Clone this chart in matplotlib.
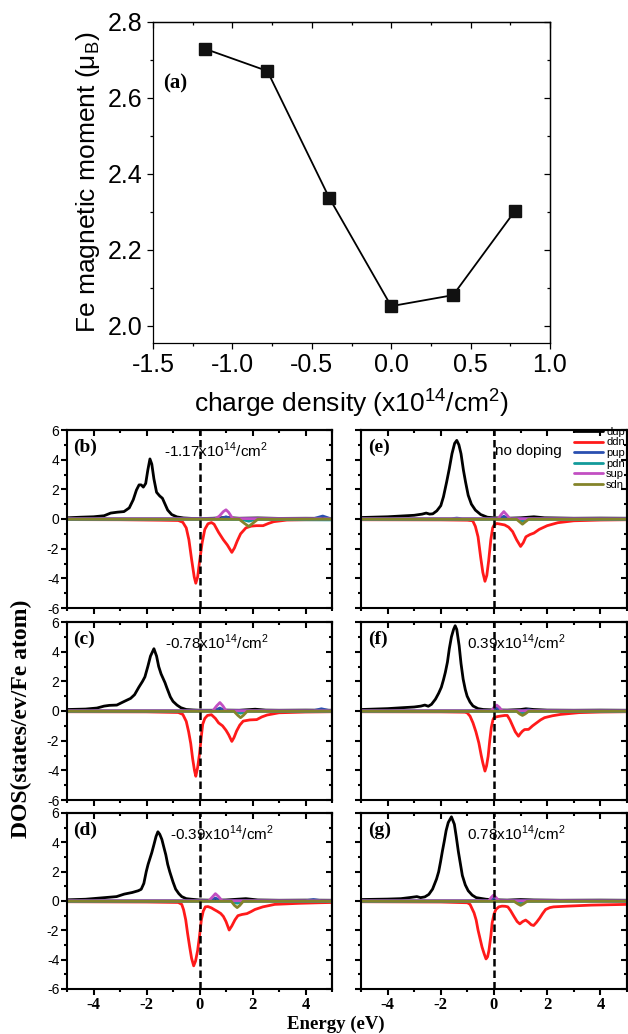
import numpy as np
import matplotlib
matplotlib.use('Agg')
from matplotlib import pyplot as plt
from matplotlib.ticker import MultipleLocator

plt.rcParams['font.family'] = ['Liberation Sans', 'DejaVu Sans']
plt.rcParams['axes.unicode_minus'] = False

# panel (a): Fe magnetic moment vs charge density
charge = [-1.17, -0.78, -0.39, 0.0, 0.39, 0.78]
moment = [2.729, 2.671, 2.337, 2.052, 2.081, 2.303]

# DOS panels, (energy, dos) pairs
b_dup = [(-5,0.08),(-4.5,0.12),(-4,0.15),(-3.6,0.22),(-3.35,0.4),(-3.1,0.46),(-2.85,0.5),(-2.65,0.75),(-2.5,1.3),(-2.38,1.95),(-2.28,2.3),(-2.2,2.3),(-2.12,2.15),(-2.03,2.4),(-1.95,3.3),(-1.87,4.05),(-1.8,3.7),(-1.72,2.7),(-1.62,1.8),(-1.5,1.55),(-1.4,1.4),(-1.3,1.0),(-1.2,0.6),(-1.05,0.3),(-0.85,0.14),(-0.6,0.07),(-0.3,0.04),(0,0.03),(0.5,0.05),(1.0,0.1),(1.5,0.05),(2.2,0.07),(3,0.04),(4,0.05),(5,0.04)]
b_ddn = [(-5,-0.04),(-3,-0.05),(-1.5,-0.08),(-0.8,-0.1),(-0.63,-0.22),(-0.5,-0.6),(-0.4,-1.4),(-0.3,-2.7),(-0.2,-3.9),(-0.14,-4.33),(-0.07,-3.9),(0,-2.9),(0.1,-1.6),(0.2,-0.7),(0.32,-0.32),(0.45,-0.24),(0.55,-0.35),(0.72,-0.9),(0.9,-1.4),(1.05,-1.75),(1.22,-2.25),(1.32,-1.95),(1.42,-1.5),(1.55,-1.0),(1.75,-0.6),(1.95,-0.48),(2.15,-0.45),(2.4,-0.45),(2.6,-0.3),(2.8,-0.18),(3.3,-0.07),(4,-0.05),(5,-0.04)]
b_pup = [(-5,0.02),(0.8,0.02),(1.0,0.15),(1.2,0.02),(4.3,0.02),(4.65,0.2),(4.9,0.05),(5,0.03)]
b_pdn = [(-5,-0.03),(1.6,-0.03),(1.86,-0.15),(2.1,-0.03),(5,-0.06)]
b_sup = [(-5,0.01),(0.6,0.01),(0.75,0.2),(0.9,0.5),(1.0,0.62),(1.1,0.45),(1.25,0.03),(5,0.01)]
b_sdn = [(-5,-0.01),(1.5,-0.02),(1.7,-0.3),(1.86,-0.5),(2.0,-0.3),(2.2,-0.02),(5,-0.01)]

c_dup = [(-5,0.1),(-4.3,0.13),(-3.87,0.2),(-3.6,0.33),(-3.4,0.38),(-3.12,0.4),(-2.95,0.55),(-2.8,0.68),(-2.6,0.85),(-2.45,1.1),(-2.29,1.6),(-2.15,2.0),(-2.06,2.3),(-1.95,3.0),(-1.85,3.7),(-1.72,4.2),(-1.62,3.7),(-1.54,3.0),(-1.45,2.5),(-1.39,2.26),(-1.3,1.9),(-1.24,1.6),(-1.1,0.95),(-1.0,0.65),(-0.85,0.4),(-0.7,0.22),(-0.5,0.1),(-0.25,0.07),(0,0.05),(0.5,0.05),(1.0,0.06),(1.5,0.05),(2.1,0.12),(2.5,0.06),(3,0.05),(4,0.06),(5,0.05)]
c_ddn = [(-5,-0.05),(-2,-0.06),(-0.8,-0.1),(-0.63,-0.23),(-0.5,-0.7),(-0.41,-1.4),(-0.33,-2.2),(-0.26,-3.2),(-0.19,-4.0),(-0.14,-4.4),(-0.07,-3.8),(0,-2.9),(0.07,-1.7),(0.12,-0.9),(0.2,-0.5),(0.3,-0.3),(0.45,-0.25),(0.6,-0.5),(0.72,-0.8),(0.87,-1.0),(1.0,-1.3),(1.1,-1.6),(1.22,-2.05),(1.3,-1.8),(1.4,-1.35),(1.52,-0.95),(1.65,-0.68),(1.9,-0.6),(2.16,-0.58),(2.35,-0.4),(2.55,-0.27),(3.0,-0.12),(4,-0.07),(5,-0.05)]
c_pup = [(-5,0.02),(0.55,0.02),(0.77,0.2),(0.95,0.02),(4.3,0.02),(4.6,0.15),(4.9,0.03),(5,0.02)]
c_pdn = [(-5,-0.03),(1.35,-0.03),(1.55,-0.15),(1.75,-0.03),(5,-0.03)]
c_sup = [(-5,0.01),(0.5,0.01),(0.65,0.35),(0.77,0.57),(0.88,0.35),(1.0,0.02),(5,0.01)]
c_sdn = [(-5,-0.01),(1.3,-0.02),(1.45,-0.3),(1.55,-0.45),(1.65,-0.3),(1.8,-0.02),(5,-0.01)]

d_dup = [(-5,0.08),(-4.3,0.12),(-3.58,0.23),(-3.13,0.3),(-2.84,0.47),(-2.54,0.58),(-2.31,0.7),(-2.2,0.8),(-2.1,1.2),(-2.01,2.0),(-1.94,2.5),(-1.87,2.9),(-1.8,3.3),(-1.72,3.84),(-1.64,4.4),(-1.57,4.72),(-1.5,4.55),(-1.42,4.2),(-1.35,3.7),(-1.27,3.14),(-1.2,2.5),(-1.12,1.98),(-1.0,1.3),(-0.9,0.81),(-0.78,0.5),(-0.67,0.3),(-0.5,0.16),(-0.3,0.12),(0,0.07),(0.5,0.05),(1.0,0.07),(1.75,0.16),(2.2,0.07),(3,0.05),(4,0.06),(5,0.05)]
d_ddn = [(-5,-0.05),(-2,-0.07),(-0.8,-0.1),(-0.67,-0.23),(-0.6,-0.6),(-0.52,-1.28),(-0.45,-2.2),(-0.37,-3.14),(-0.3,-3.9),(-0.22,-4.42),(-0.15,-4.1),(-0.07,-3.37),(0,-2.4),(0.07,-1.28),(0.14,-0.7),(0.22,-0.4),(0.32,-0.38),(0.45,-0.47),(0.55,-0.58),(0.67,-0.7),(0.8,-0.85),(0.9,-1.05),(1.0,-1.4),(1.12,-1.98),(1.22,-1.7),(1.34,-1.28),(1.45,-1.0),(1.6,-0.92),(1.79,-0.86),(1.95,-0.72),(2.09,-0.58),(2.39,-0.4),(2.84,-0.23),(3.73,-0.16),(4.5,-0.12),(5,-0.1)]
d_pup = [(-5,0.02),(0.4,0.02),(0.6,0.2),(0.8,0.02),(4.0,0.02),(4.3,0.1),(4.6,0.02),(5,0.02)]
d_pdn = [(-5,-0.03),(1.2,-0.03),(1.42,-0.15),(1.65,-0.03),(5,-0.03)]
d_sup = [(-5,0.01),(0.35,0.01),(0.5,0.3),(0.6,0.5),(0.72,0.3),(0.85,0.02),(5,0.01)]
d_sdn = [(-5,-0.01),(1.2,-0.02),(1.32,-0.3),(1.42,-0.45),(1.52,-0.3),(1.65,-0.02),(5,-0.01)]

e_dup = [(-5,0.1),(-4,0.15),(-3,0.25),(-2.7,0.33),(-2.55,0.4),(-2.42,0.33),(-2.3,0.35),(-2.15,0.55),(-2.0,0.9),(-1.9,1.5),(-1.78,2.5),(-1.68,3.4),(-1.58,4.4),(-1.48,5.1),(-1.4,5.3),(-1.32,5.0),(-1.24,4.4),(-1.15,3.3),(-1.07,2.5),(-0.97,1.6),(-0.85,1.0),(-0.7,0.6),(-0.5,0.3),(-0.25,0.12),(0,0.08),(0.5,0.05),(1.0,0.08),(1.5,0.15),(1.9,0.08),(3,0.05),(4,0.06),(5,0.05)]
e_ddn = [(-5,-0.05),(-2,-0.06),(-1,-0.08),(-0.8,-0.12),(-0.7,-0.5),(-0.6,-1.2),(-0.5,-2.6),(-0.42,-3.6),(-0.34,-4.2),(-0.27,-3.8),(-0.2,-2.8),(-0.12,-1.4),(-0.05,-0.6),(0,-0.42),(0.1,-0.3),(0.25,-0.35),(0.4,-0.4),(0.55,-0.55),(0.7,-0.85),(0.85,-1.4),(1.0,-1.85),(1.1,-1.6),(1.2,-1.2),(1.35,-1.05),(1.5,-0.95),(1.7,-0.7),(2.0,-0.45),(2.4,-0.25),(3.0,-0.12),(4,-0.07),(5,-0.05)]
e_pup = [(-5,0.02),(-1.6,0.02),(-1.4,0.06),(-1.2,0.02),(0.2,0.02),(0.37,0.18),(0.55,0.02),(5,0.02)]
e_pdn = [(-5,-0.03),(0.9,-0.03),(1.07,-0.15),(1.25,-0.03),(5,-0.03)]
e_sup = [(-5,0.01),(0.15,0.01),(0.27,0.3),(0.37,0.5),(0.47,0.3),(0.6,0.02),(5,0.01)]
e_sdn = [(-5,-0.01),(0.85,-0.02),(0.97,-0.2),(1.07,-0.35),(1.17,-0.2),(1.3,-0.02),(5,-0.01)]

f_dup = [(-5,0.1),(-4,0.16),(-3.47,0.22),(-3.0,0.27),(-2.75,0.33),(-2.6,0.4),(-2.47,0.32),(-2.35,0.45),(-2.2,0.8),(-2.08,1.2),(-1.98,1.6),(-1.9,2.1),(-1.83,2.6),(-1.75,3.3),(-1.68,4.2),(-1.6,5.0),(-1.52,5.5),(-1.46,5.75),(-1.4,5.5),(-1.31,4.4),(-1.24,3.2),(-1.16,2.15),(-1.08,1.45),(-1.01,1.0),(-0.9,0.6),(-0.79,0.34),(-0.6,0.16),(-0.4,0.1),(0,0.07),(0.5,0.06),(1.0,0.1),(1.2,0.15),(1.5,0.1),(2,0.06),(3,0.05),(4,0.06),(5,0.05)]
f_ddn = [(-5,-0.05),(-2,-0.06),(-1.1,-0.08),(-1.01,-0.12),(-0.9,-0.35),(-0.79,-0.8),(-0.68,-1.4),(-0.57,-2.15),(-0.48,-3.0),(-0.42,-3.5),(-0.34,-4.05),(-0.28,-3.7),(-0.22,-3.05),(-0.16,-2.0),(-0.1,-1.1),(-0.04,-0.6),(0,-0.45),(0.12,-0.38),(0.25,-0.34),(0.4,-0.3),(0.5,-0.3),(0.6,-0.6),(0.7,-1.0),(0.8,-1.4),(0.92,-1.7),(1.0,-1.5),(1.07,-1.36),(1.15,-1.25),(1.3,-1.24),(1.45,-1.0),(1.6,-0.8),(1.75,-0.6),(1.9,-0.45),(2.2,-0.32),(2.5,-0.23),(3.2,-0.11),(4,-0.07),(5,-0.05)]
f_pup = [(-5,0.02),(-0.1,0.02),(0.1,0.2),(0.3,0.02),(1.1,0.02),(1.3,0.08),(1.5,0.02),(5,0.02)]
f_pdn = [(-5,-0.03),(0.9,-0.03),(1.07,-0.15),(1.25,-0.03),(5,-0.03)]
f_sup = [(-5,0.01),(-0.1,0.01),(0.0,0.25),(0.1,0.4),(0.2,0.25),(0.3,0.02),(5,0.01)]
f_sdn = [(-5,-0.01),(0.85,-0.02),(0.97,-0.2),(1.07,-0.3),(1.17,-0.2),(1.3,-0.02),(5,-0.01)]

g_dup = [(-5,0.1),(-4,0.13),(-3.5,0.16),(-3.1,0.25),(-2.9,0.3),(-2.76,0.23),(-2.6,0.28),(-2.45,0.45),(-2.31,0.81),(-2.16,1.5),(-2.08,2.0),(-2.01,2.67),(-1.94,3.4),(-1.87,4.07),(-1.8,4.8),(-1.72,5.35),(-1.6,5.74),(-1.49,5.23),(-1.42,4.4),(-1.34,3.37),(-1.26,2.5),(-1.19,1.74),(-1.08,1.1),(-0.97,0.7),(-0.82,0.4),(-0.67,0.23),(-0.3,0.12),(0,0.08),(0.5,0.06),(1.0,0.1),(1.5,0.07),(2.5,0.05),(4,0.06),(5,0.05)]
g_ddn = [(-5,-0.05),(-2,-0.07),(-1.0,-0.12),(-0.9,-0.23),(-0.75,-0.81),(-0.67,-1.3),(-0.6,-1.98),(-0.52,-2.6),(-0.45,-3.14),(-0.37,-3.6),(-0.3,-3.95),(-0.24,-3.8),(-0.19,-3.37),(-0.12,-2.4),(-0.07,-1.5),(0,-0.9),(0.07,-0.58),(0.18,-0.4),(0.3,-0.35),(0.42,-0.36),(0.52,-0.4),(0.62,-0.65),(0.75,-1.05),(0.87,-1.4),(0.97,-1.56),(1.08,-1.4),(1.19,-1.3),(1.3,-1.45),(1.4,-1.62),(1.49,-1.67),(1.6,-1.45),(1.72,-1.16),(1.83,-0.85),(1.94,-0.58),(2.1,-0.45),(2.24,-0.4),(2.76,-0.35),(3.66,-0.28),(5,-0.23)]
g_pup = [(-5,0.02),(-0.2,0.02),(0.0,0.22),(0.2,0.02),(5,0.02)]
g_pdn = [(-5,-0.03),(0.8,-0.03),(1.0,-0.15),(1.2,-0.03),(5,-0.03)]
g_sup = [(-5,0.01),(-0.2,0.01),(-0.1,0.25),(-0.02,0.4),(0.07,0.25),(0.18,0.02),(5,0.01)]
g_sdn = [(-5,-0.01),(0.75,-0.02),(0.9,-0.2),(1.0,-0.3),(1.1,-0.2),(1.25,-0.02),(5,-0.01)]

names = ['dup', 'ddn', 'pup', 'pdn', 'sup', 'sdn']
colors = ['black', '#ff1a1a', '#2a4fb0', '#139a9a', '#c24fc2', '#84842a']
notes = {'b': '-1.17x10$^\\mathregular{14}$/cm$^\\mathregular{2}$',
         'c': '-0.78x10$^\\mathregular{14}$/cm$^\\mathregular{2}$',
         'd': '-0.39x10$^\\mathregular{14}$/cm$^\\mathregular{2}$',
         'e': 'no doping',
         'f': '0.39x10$^\\mathregular{14}$/cm$^\\mathregular{2}$',
         'g': '0.78x10$^\\mathregular{14}$/cm$^\\mathregular{2}$'}
note_x = {'b': -1.35, 'c': -1.3, 'd': -1.1, 'e': 0.02, 'f': -1.0, 'g': -1.0}
panels = {'b': [b_dup, b_ddn, b_pup, b_pdn, b_sup, b_sdn],
          'c': [c_dup, c_ddn, c_pup, c_pdn, c_sup, c_sdn],
          'd': [d_dup, d_ddn, d_pup, d_pdn, d_sup, d_sdn],
          'e': [e_dup, e_ddn, e_pup, e_pdn, e_sup, e_sdn],
          'f': [f_dup, f_ddn, f_pup, f_pdn, f_sup, f_sdn],
          'g': [g_dup, g_ddn, g_pup, g_pdn, g_sup, g_sdn]}

W, H = 628, 1034
fig = plt.figure(figsize=(W / 100, H / 100), dpi=100)


def box(x0, x1, y0, y1):
    return [x0 / W, 1 - y1 / H, (x1 - x0) / W, (y1 - y0) / H]


def mirror_ticks(ax, xmaj, xmin, ymaj, ymin, lmaj, lmin, lw):
    ax.xaxis.set_major_locator(MultipleLocator(xmaj))
    ax.xaxis.set_minor_locator(MultipleLocator(xmin))
    ax.yaxis.set_major_locator(MultipleLocator(ymaj))
    ax.yaxis.set_minor_locator(MultipleLocator(ymin))
    ax.tick_params(which='major', direction='out', length=lmaj, width=lw)
    ax.tick_params(which='minor', direction='out', length=lmin, width=lw)
    top = ax.secondary_xaxis('top')
    top.xaxis.set_major_locator(MultipleLocator(xmaj))
    top.xaxis.set_minor_locator(MultipleLocator(xmin))
    top.tick_params(which='major', direction='in', length=lmaj, width=lw, labeltop=False)
    top.tick_params(which='minor', direction='in', length=lmin, width=lw)
    right = ax.secondary_yaxis('right')
    right.yaxis.set_major_locator(MultipleLocator(ymaj))
    right.yaxis.set_minor_locator(MultipleLocator(ymin))
    right.tick_params(which='major', direction='in', length=lmaj, width=lw, labelright=False)
    right.tick_params(which='minor', direction='in', length=lmin, width=lw)
    for a in (ax, top, right):
        for s in a.spines.values():
            s.set_linewidth(lw)


# ---- panel (a)
ax = fig.add_axes(box(153, 550, 22, 343))
ax.plot(charge, moment, color='black', lw=1.3, marker='s', ms=8.5,
        mfc='#111111', mec='#111111')
ax.set_xlim(-1.5, 1.0)
ax.set_ylim(1.955, 2.8)
mirror_ticks(ax, 0.5, 0.25, 0.2, 0.1, 4.5, 2.2, 0.9)
ax.tick_params(labelsize=18, pad=3)
ax.set_xticklabels([f'{v:.1f}' for v in ax.get_xticks()])
ax.set_yticks([2.0, 2.2, 2.4, 2.6, 2.8])
ax.set_yticklabels(['2.0', '2.2', '2.4', '2.6', '2.8'])
ax.set_xlabel('charge density (x10$^\\mathregular{14}$/cm$^\\mathregular{2}$)', fontsize=19, labelpad=6)
ax.set_ylabel('Fe magnetic moment (μ$_\\mathregular{B}$)', fontsize=19, labelpad=4)
ax.text(0.025, 0.81, '(a)', transform=ax.transAxes, fontsize=15, fontweight='bold',
        family='Liberation Serif', va='center', ha='left')

# ---- DOS panels
cols = {'b': 0, 'c': 0, 'd': 0, 'e': 1, 'f': 1, 'g': 1}
rows = {'b': 0, 'c': 1, 'd': 2, 'e': 0, 'f': 1, 'g': 2}
col_x = [(67, 332), (361, 627)]
row_y = [(430, 608), (622, 800), (813, 989)]

for key, curves in panels.items():
    cx = col_x[cols[key]]
    ry = row_y[rows[key]]
    ax = fig.add_axes(box(cx[0], cx[1], ry[0], ry[1]))
    for pts, nm, col in zip(curves, names, colors):
        arr = np.array(pts)
        ax.plot(arr[:, 0], arr[:, 1], color=col, lw=2.0, label=nm, solid_capstyle='round')
    ax.axvline(0, color='black', lw=1.8, ls=(0, (3, 1.6)))
    ax.set_xlim(-5, 5)
    ax.set_ylim(-6, 6)
    mirror_ticks(ax, 2, 1, 2, 1, 4, 2.2, 1.5)
    ax.tick_params(axis='y', labelsize=10, pad=1.5)
    ax.tick_params(axis='x', labelsize=12, pad=1.5)
    for t in ax.get_xticklabels():
        t.set_family('Liberation Serif')
        t.set_fontweight('bold')
    if rows[key] != 2:
        ax.tick_params(axis='x', labelbottom=False)
    if cols[key] != 0:
        ax.tick_params(axis='y', labelleft=False)
    ax.text(0.025, 0.95, f'({key})', transform=ax.transAxes, fontsize=14, fontweight='bold',
            family='Liberation Serif', va='top', ha='left')
    ax.text(note_x[key], 4.6, notes[key], fontsize=11, va='center', ha='left')
    if key == 'e':
        ax.legend(loc='upper right', bbox_to_anchor=(1.0, 1.03), frameon=False, fontsize=8,
                  handlelength=2.6, handletextpad=0.25, labelspacing=0.05, borderaxespad=0.1,
                  borderpad=0.1)

fig.text(336 / W, 1 - 1024 / H, 'Energy (eV)', fontsize=13.5, fontweight='bold',
         family='Liberation Serif', ha='center', va='center')
fig.text(21 / W, 1 - 719 / H, 'DOS(states/ev/Fe atom)', fontsize=17, fontweight='bold',
         family='Liberation Serif', ha='center', va='center', rotation=90)

fig.savefig('out.png', dpi=100)
